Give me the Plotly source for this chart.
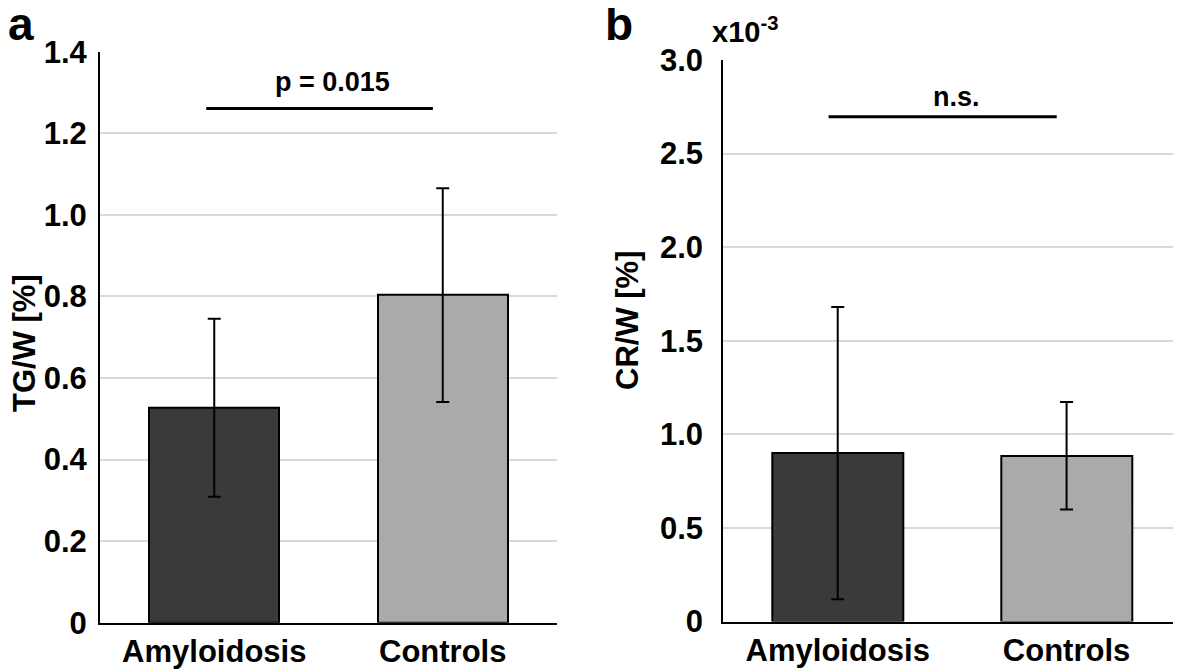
import plotly.graph_objects as go

# ---- data ----
categories = ["Amyloidosis", "Controls"]
tg_w_mean = [0.527, 0.803]
tg_w_err = [0.218, 0.262]
cr_w_mean = [0.90, 0.886]      # x10^-3
cr_w_err = [0.78, 0.287]
bar_colors = ["#3a3a3a", "#aaaaaa"]

a_ticks = [0, 0.2, 0.4, 0.6, 0.8, 1.0, 1.2, 1.4]
a_ticktext = ["0", "0.2", "0.4", "0.6", "0.8", "1.0", "1.2", "1.4"]
b_ticks = [0, 0.5, 1.0, 1.5, 2.0, 2.5, 3.0]
b_ticktext = ["0", "0.5", "1.0", "1.5", "2.0", "2.5", "3.0"]

# significance brackets (data coordinates)
sig_a = dict(x0=-0.035, x1=0.957, y=1.261, text="p = 0.015", tx=0.517, ty=1.325)
sig_b = dict(x0=-0.04, x1=0.957, y=2.697, text="n.s.", tx=0.52, ty=2.80)

OFF = 8  # page body margin
W, H = 1181 - OFF, 669 - OFF
FONT = "Liberation Sans, Arial, sans-serif"


def px(x):
    return (x - OFF) / W


def py(y):
    return 1 - (y - OFF) / H


fig = go.Figure()
fig.add_trace(go.Bar(
    x=categories, y=tg_w_mean, width=0.57,
    marker=dict(color=bar_colors, line=dict(color="black", width=2)),
    error_y=dict(type="data", array=tg_w_err, color="black", thickness=2, width=6.5),
    xaxis="x", yaxis="y", showlegend=False))
fig.add_trace(go.Bar(
    x=categories, y=cr_w_mean, width=0.57,
    marker=dict(color=bar_colors, line=dict(color="black", width=2)),
    error_y=dict(type="data", array=cr_w_err, color="black", thickness=2, width=6.5),
    xaxis="x2", yaxis="y2", showlegend=False))

tickfont = dict(family=FONT, size=31, color="black", weight="bold")

fig.update_layout(
    width=W, height=H,
    margin=dict(l=0, r=0, t=0, b=0, autoexpand=False),
    paper_bgcolor="white", plot_bgcolor="white",
    font=dict(family=FONT, color="black"),
    bargap=0,
    xaxis=dict(domain=[px(100), px(557)], type="category", categoryorder="array",
               categoryarray=categories, range=[-0.5, 1.5], automargin=False,
               showline=True, linecolor="black", linewidth=2, showgrid=False,
               ticks="", tickfont=tickfont, ticklabelstandoff=0, anchor="y"),
    yaxis=dict(domain=[py(622.7), py(51.7)], range=[0, 1.4], automargin=False,
               tickvals=a_ticks, ticktext=a_ticktext,
               showline=True, linecolor="black", linewidth=2,
               showgrid=True, gridcolor="#d9d9d9", gridwidth=2, zeroline=False,
               ticks="", tickfont=tickfont, ticklabelstandoff=5, anchor="x"),
    xaxis2=dict(domain=[px(723.3), 1.0], type="category", categoryorder="array",
                categoryarray=categories, range=[-0.5, 1.5], automargin=False,
                showline=True, linecolor="black", linewidth=2, showgrid=False,
                ticks="", tickfont=tickfont, ticklabelstandoff=0, anchor="y2"),
    yaxis2=dict(domain=[py(621.6), py(60)], range=[0, 3.0], automargin=False,
                tickvals=b_ticks, ticktext=b_ticktext,
                showline=True, linecolor="black", linewidth=2,
                showgrid=True, gridcolor="#d9d9d9", gridwidth=2, zeroline=False,
                ticks="", tickfont=tickfont, ticklabelstandoff=12, anchor="x2"),
)

# significance lines
for s, xr, yr in [(sig_a, "x", "y"), (sig_b, "x2", "y2")]:
    fig.add_shape(type="line", xref=xr, yref=yr, x0=s["x0"], x1=s["x1"],
                  y0=s["y"], y1=s["y"], line=dict(color="black", width=3))
    fig.add_annotation(xref=xr, yref=yr, x=s["tx"], y=s["ty"], text=s["text"],
                       showarrow=False, xanchor="center", yanchor="middle",
                       font=dict(family=FONT, size=27, color="black", weight="bold"))


def bold(sz):
    return dict(family=FONT, size=sz, color="black", weight="bold")


# axis titles
fig.add_annotation(xref="paper", yref="paper", x=px(25), y=py(343), text="TG/W [%]",
                   textangle=-90, showarrow=False, xanchor="center", yanchor="middle",
                   font=bold(31))
fig.add_annotation(xref="paper", yref="paper", x=px(627), y=py(321), text="CR/W [%]",
                   textangle=-90, showarrow=False, xanchor="center", yanchor="middle",
                   font=bold(31))
# panel labels
fig.add_annotation(xref="paper", yref="paper", x=px(6), y=py(24), text="a",
                   showarrow=False, xanchor="left", yanchor="middle", font=bold(46))
fig.add_annotation(xref="paper", yref="paper", x=px(603), y=py(24), text="b",
                   showarrow=False, xanchor="left", yanchor="middle", font=bold(46))
# exponent label
fig.add_annotation(xref="paper", yref="paper", x=px(710), y=py(30),
                   text="x10<sup>-3</sup>", showarrow=False, xanchor="left",
                   yanchor="middle", font=bold(29))

fig.write_html("out.html")
